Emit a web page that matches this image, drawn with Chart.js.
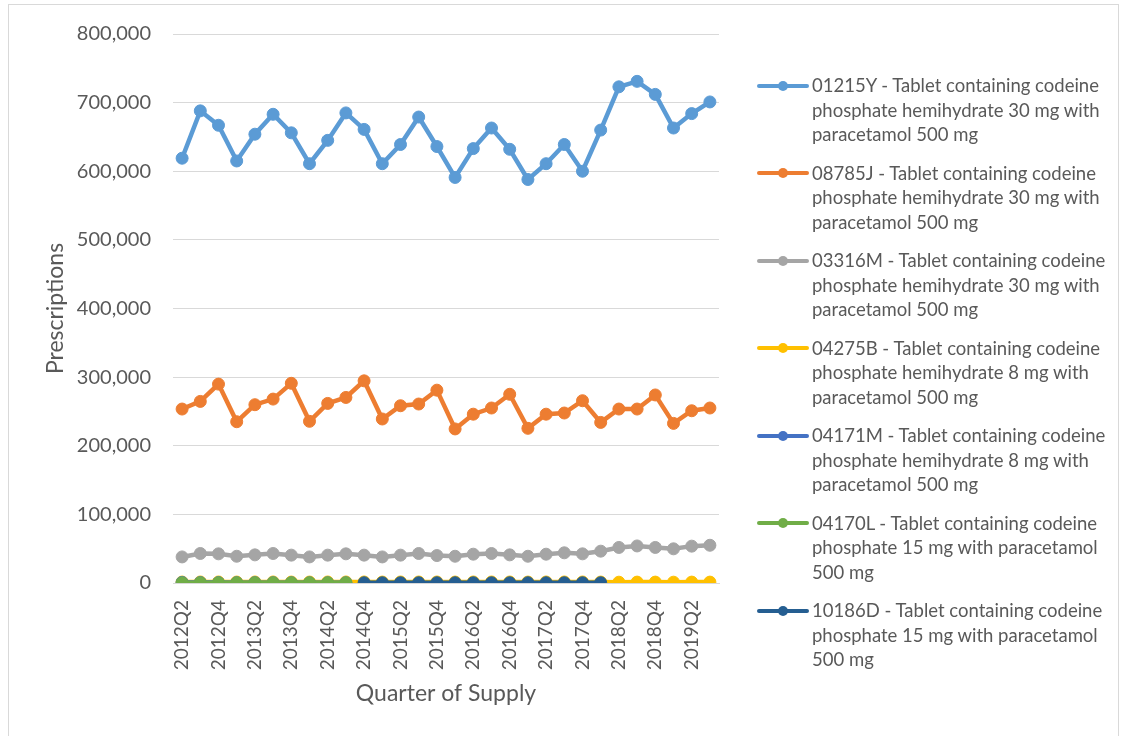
<!DOCTYPE html>
<html>
<head>
<meta charset="utf-8">
<script src="https://cdn.jsdelivr.net/npm/chart.js@4.4.1/dist/chart.umd.min.js"></script>
<style>
  html, body { margin: 0; padding: 0; background: #ffffff; }
  body { width: 1125px; height: 736px; position: relative; overflow: hidden; font-family: Lato, "Open Sans", sans-serif; }
  #frame { position: absolute; left: 8px; top: 4px; width: 1111px; height: 760px; border: 1px solid #d9d9d9; box-sizing: border-box; }
  #wrap { position: absolute; left: 0; top: 0; width: 1125px; height: 736px; }
  #legend { position: absolute; left: 757px; top: 73px; width: 366px; color: #595959; font-size: 18.5px; }
  .item { display: flex; align-items: flex-start; margin-bottom: 14px; }
  .swatch { position: relative; width: 52px; height: 24.5px; flex: 0 0 52px; margin-right: 3px; }
  .swatch .bar { position: absolute; left: 0; right: 0; top: 10.5px; height: 4px; border-radius: 2px; }
  .swatch .dot { position: absolute; left: 21px; top: 7.5px; width: 10px; height: 10px; border-radius: 50%; }
  .txt { line-height: 24.5px; white-space: nowrap; }
</style>
</head>
<body>
<div id="frame"></div>
<div id="wrap"><canvas id="chart" width="1125" height="736"></canvas></div>
<div id="legend"></div>
<script>
// Quarter of supply categories
const quarters = [
  '2012Q2','2012Q3','2012Q4','2013Q1','2013Q2','2013Q3','2013Q4','2014Q1','2014Q2','2014Q3',
  '2014Q4','2015Q1','2015Q2','2015Q3','2015Q4','2016Q1','2016Q2','2016Q3','2016Q4','2017Q1',
  '2017Q2','2017Q3','2017Q4','2018Q1','2018Q2','2018Q3','2018Q4','2019Q1','2019Q2','2019Q3'
];

// Prescriptions per quarter, by item code
const rx01215Y = [
  619000, 688000, 667000, 615000, 654000, 683000, 656000, 611000, 645000, 685000,
  661000, 611000, 639000, 679000, 636000, 591000, 633000, 663000, 632000, 588000,
  611000, 639000, 600000, 660000, 723000, 731000, 712000, 663000, 684000, 701000
];
const rx08785J = [
  253500, 264600, 289800, 235000, 259800, 268000, 291000, 235600, 261700, 270400,
  294600, 239000, 258300, 260800, 281000, 224500, 246000, 255000, 275000, 225400,
  246000, 247700, 265600, 234000, 253500, 253500, 274000, 232600, 251000, 255000
];
const rx03316M = [
  38000, 43000, 42500, 39000, 41000, 43000, 40600, 38000, 40600, 42500,
  40600, 38000, 40600, 43000, 40000, 39000, 42000, 43000, 41000, 39000,
  42000, 44000, 42500, 46400, 51800, 54000, 51800, 49800, 53700, 55000
];
const rx04275B = [
  1400, 1500, 1500, 1400, 1500, 1500, 1400, 1400, 1500, 1500,
  1500, 1400, 1500, 1500, 1500, 1400, 1500, 1500, 1500, 1400,
  1500, 1500, 1500, 1400, 1200, 1300, 1300, 1200, 1300, 1300
];
const rx04171M = [
  900, 700, 600, 500, 500, 400, 400, 300, 300, 300,
  null, null, null, null, null, null, null, null, null, null,
  null, null, null, null, null, null, null, null, null, null
];
const rx04170L = [
  300, 300, 300, 300, 300, 300, 300, 300, 300, 300,
  null, null, null, null, null, null, null, null, null, null,
  null, null, null, null, null, null, null, null, null, null
];
const rx10186D = [
  null, null, null, null, null, null, null, null, null, null,
  400, 400, 400, 400, 400, 400, 400, 400, 400, 400,
  400, 400, 400, 400, null, null, null, null, null, null
];

// Y axis ticks
const yTicks = [0, 100000, 200000, 300000, 400000, 500000, 600000, 700000, 800000];

const seriesNames = [
  '01215Y - Tablet containing codeine\nphosphate hemihydrate 30 mg with\nparacetamol 500 mg',
  '08785J - Tablet containing codeine\nphosphate hemihydrate 30 mg with\nparacetamol 500 mg',
  '03316M - Tablet containing codeine\nphosphate hemihydrate 30 mg with\nparacetamol 500 mg',
  '04275B - Tablet containing codeine\nphosphate hemihydrate 8 mg with\nparacetamol 500 mg',
  '04171M - Tablet containing codeine\nphosphate hemihydrate 8 mg with\nparacetamol 500 mg',
  '04170L - Tablet containing codeine\nphosphate 15 mg with paracetamol\n500 mg',
  '10186D - Tablet containing codeine\nphosphate 15 mg with paracetamol\n500 mg'
];
const seriesValues = [rx01215Y, rx08785J, rx03316M, rx04275B, rx04171M, rx04170L, rx10186D];
const seriesColors = ['#5B9BD5', '#ED7D31', '#A5A5A5', '#FFC000', '#4472C4', '#70AD47', '#255E91'];

const TEXT = '#595959';
const FONT = 'Lato, "Open Sans", sans-serif';

const datasets = seriesValues.map((vals, i) => ({
  label: seriesNames[i].replace(/\n/g, ' '),
  data: vals,
  borderColor: seriesColors[i],
  backgroundColor: seriesColors[i],
  pointBackgroundColor: seriesColors[i],
  pointBorderColor: seriesColors[i],
  borderWidth: 4.5,
  pointRadius: 6,
  pointBorderWidth: 1,
  pointHoverRadius: 6,
  spanGaps: false,
  tension: 0,
  order: seriesValues.length - 1 - i   // later series draw on top
}));

new Chart(document.getElementById('chart'), {
  type: 'line',
  data: { labels: quarters, datasets },
  options: {
    responsive: false,
    animation: false,
    events: [],
    layout: { padding: { left: 0, right: 406, top: 32, bottom: 0 } },
    plugins: { legend: { display: false }, tooltip: { enabled: false } },
    scales: {
      x: {
        type: 'category',
        offset: true,
        grid: { display: false, drawTicks: false },
        border: { display: true, color: '#d9d9d9', width: 1 },
        ticks: {
          autoSkip: false,
          maxRotation: 90,
          minRotation: 90,
          padding: 17,
          color: TEXT,
          font: { family: FONT, size: 19 },
          callback: function (v, idx) { return idx % 2 === 0 ? quarters[idx] : ''; }
        },
        title: {
          display: true,
          text: 'Quarter of Supply',
          color: TEXT,
          font: { family: FONT, size: 23 },
          padding: { top: 0, bottom: 29 }
        },
        afterFit: function (s) { s.height = 736 - 583; }
      },
      y: {
        min: 0,
        max: 800000,
        afterBuildTicks: function (s) { s.ticks = yTicks.map(v => ({ value: v })); },
        grid: { color: '#d9d9d9', lineWidth: 1, drawTicks: false },
        border: { display: false },
        ticks: {
          padding: 22,
          color: TEXT,
          font: { family: FONT, size: 20 },
          callback: function (v) { return Number(v).toLocaleString('en-US'); }
        },
        title: {
          display: true,
          text: 'Prescriptions',
          color: TEXT,
          font: { family: FONT, size: 23 },
          padding: { top: 42, bottom: 0 }
        },
        afterFit: function (s) { s.width = 173; }
      }
    }
  }
});

// Legend built from the same series names and colours
const legend = document.getElementById('legend');
seriesNames.forEach((name, i) => {
  const item = document.createElement('div');
  item.className = 'item';
  const sw = document.createElement('div');
  sw.className = 'swatch';
  const bar = document.createElement('div');
  bar.className = 'bar';
  bar.style.background = seriesColors[i];
  const dot = document.createElement('div');
  dot.className = 'dot';
  dot.style.background = seriesColors[i];
  sw.appendChild(bar);
  sw.appendChild(dot);
  const txt = document.createElement('div');
  txt.className = 'txt';
  txt.innerHTML = name.split('\n').join('<br>');
  item.appendChild(sw);
  item.appendChild(txt);
  legend.appendChild(item);
});
</script>
</body>
</html>
